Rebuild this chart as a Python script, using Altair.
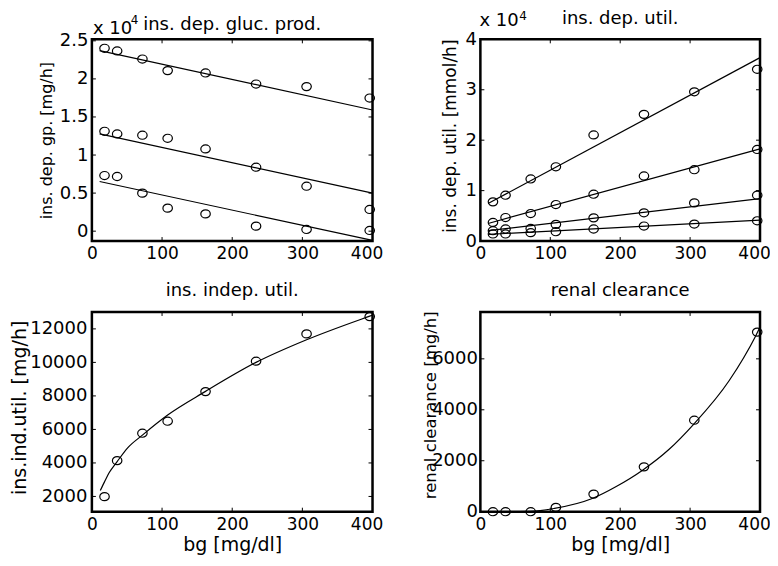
import altair as alt
import pandas as pd

FONT = "DejaVu Sans"

# blood glucose sample points [mg/dl]
bg = [18, 36, 72, 108, 162, 234, 306, 396]
fit_x = [11, 400]

# panel 1: ins. dep. gluc. prod.  (values in units of 10^4 mg/h)
gp_1 = [2.402, 2.367, 2.261, 2.109, 2.078, 1.933, 1.899, 1.749]
gp_2 = [1.312, 1.277, 1.260, 1.220, 1.080, 0.840, 0.590, 0.285]
gp_3 = [0.731, 0.718, 0.499, 0.302, 0.227, 0.066, 0.022, 0.009]
gp_fit_1 = [2.371, 1.592]
gp_fit_2 = [1.277, 0.499]
gp_fit_3 = [0.652, -0.121]

# panel 2: ins. dep. util.  (values in units of 10^4 mmol/h)
ut_1 = [0.777, 0.909, 1.231, 1.473, 2.104, 2.512, 2.959, 3.406]
ut_2 = [0.369, 0.467, 0.546, 0.724, 0.929, 1.290, 1.414, 1.816]
ut_3 = [0.205, 0.239, 0.250, 0.330, 0.460, 0.560, 0.757, 0.909]
ut_4 = [0.140, 0.140, 0.166, 0.185, 0.239, 0.298, 0.337, 0.402]
ut_fit_1 = [0.744, 3.637]
ut_fit_2 = [0.349, 1.828]
ut_fit_3 = [0.205, 0.842]
ut_fit_4 = [0.132, 0.416]

# panel 3: ins. indep. util. [mg/h]
iu = [1988, 4137, 5773, 6490, 8257, 10072, 11701, 12734]
iu_curve_x = [12, 18, 25, 36, 51, 72, 108, 162, 234, 306, 396, 400]
iu_curve_y = [2350, 2870, 3440, 4080, 4900, 5660, 6860, 8270, 10000, 11350, 12760, 12820]

# panel 4: renal clearance [mg/h]
rc = [0, 0, 0, 170, 690, 1760, 3590, 7050]
rc_curve_x = [18, 36, 72, 106, 160, 195, 232, 270, 305, 356, 394, 400]
rc_curve_y = [0, 0, 10, 130, 520, 1000, 1630, 2450, 3430, 5150, 6910, 7240]

x_ticks = [0, 100, 200, 300, 400]
gp_ticks = [0, 0.5, 1, 1.5, 2, 2.5]
ut_ticks = [0, 1, 2, 3, 4]
iu_ticks = [2000, 4000, 6000, 8000, 10000, 12000]
rc_ticks = [0, 2000, 4000, 6000]

ELLIPSE = "M-1,0A1,0.85,0,1,0,1,0A1,0.85,0,1,0,-1,0Z"


def long_df(xs, series):
    rows = []
    for name, ys in series.items():
        for xv, yv in zip(xs, ys):
            rows.append({"x": xv, "y": yv, "s": name})
    return pd.DataFrame(rows)


def text_layer(txt, x, y, size, align="left"):
    return (
        alt.Chart(pd.DataFrame({"t": [txt]}))
        .mark_text(align=align, baseline="alphabetic", fontSize=size, font=FONT, color="black")
        .encode(text="t:N", x=alt.value(x), y=alt.value(y))
    )


def panel(pts, fit, ydom, yt, w, h, title, toff, xtitle, ytitle, ytx, yty,
          ytsize, ylabpad, xlabpad, interp="linear", expo=None):
    xs = alt.Scale(domain=[0, 400], nice=False, zero=False)
    ys = alt.Scale(domain=ydom, nice=False, zero=False)
    xax_kw = dict(values=x_ticks, tickCount=20, format="~r", labelFlush=False,
                  labelOverlap=False, ticks=False, domain=False, grid=False,
                  labelPadding=xlabpad, labelFontSize=17, title=xtitle,
                  labelOffset={"condition": {"test": "datum.value == 400", "value": -6},
                               "value": 0})
    if xtitle is not None:
        xax_kw.update(titleFontSize=19, titleY=24, titleX=w / 2)
    xax = alt.Axis(**xax_kw)
    yax = alt.Axis(values=yt, tickCount=20, format="~r", labelOverlap=False, ticks=False,
                   domain=False, grid=False, labelPadding=ylabpad, labelFontSize=18,
                   title=ytitle, titleX=ytx, titleY=yty, titleFontSize=ytsize)
    layers = []
    layers.append(
        alt.Chart(fit).mark_line(color="black", strokeWidth=1.2, interpolate=interp)
        .encode(x=alt.X("x:Q", scale=xs, axis=xax),
                y=alt.Y("y:Q", scale=ys, axis=yax),
                detail="s:N")
    )
    layers.append(
        alt.Chart(pts).mark_point(shape=ELLIPSE, size=90, filled=False, color="black",
                                  strokeWidth=1.2, opacity=1)
        .encode(x="x:Q", y="y:Q", detail="s:N")
    )
    xtk = pd.DataFrame({"x": x_ticks[1:-1]})
    ytk = pd.DataFrame({"y": yt})
    layers.append(alt.Chart(xtk).mark_rule(color="black", strokeWidth=1)
                  .encode(x="x:Q", y=alt.value(0), y2=alt.value(4)))
    layers.append(alt.Chart(xtk).mark_rule(color="black", strokeWidth=1)
                  .encode(x="x:Q", y=alt.value(h), y2=alt.value(h - 4)))
    layers.append(alt.Chart(ytk).mark_rule(color="black", strokeWidth=1)
                  .encode(y="y:Q", x=alt.value(0), x2=alt.value(4)))
    layers.append(alt.Chart(ytk).mark_rule(color="black", strokeWidth=1)
                  .encode(y="y:Q", x=alt.value(w - 4), x2=alt.value(w)))
    # panel title
    layers.append(text_layer(title, w / 2, -toff, 18, align="center"))
    if expo is not None:
        bx, by, px, py = expo
        layers.append(text_layer("x 10", bx, by, 18))
        layers.append(text_layer("4", px, py, 12))
    return alt.layer(*layers).properties(width=w, height=h)


tl = panel(long_df(bg, {"a": gp_1, "b": gp_2, "c": gp_3}),
           long_df(fit_x, {"a": gp_fit_1, "b": gp_fit_2, "c": gp_fit_3}),
           [-0.13, 2.52], gp_ticks, 281, 202, "ins. dep. gluc. prod.", 9,
           None, "ins. dep. gp. [mg/h]", -37, 101, 16, 4, 4,
           expo=(1, -5, 39, -15))
tr = panel(long_df(bg, {"a": ut_1, "b": ut_2, "c": ut_3, "d": ut_4}),
           long_df(fit_x, {"a": ut_fit_1, "b": ut_fit_2, "c": ut_fit_3, "d": ut_fit_4}),
           [0, 4], ut_ticks, 280, 202, "ins. dep. util.", 15,
           None, "ins. dep. util. [mmol/h]", -21, 96.5, 17, 4, 4,
           expo=(-1, -13, 39, -19))
bl = panel(long_df(bg, {"a": iu}),
           long_df(iu_curve_x, {"a": iu_curve_y}),
           [1090, 13010], iu_ticks, 281, 200, "ins. indep. util.", 15.5,
           "bg [mg/dl]", "ins.ind.util. [mg/h]", -62, 95.5, 19, 5, 5,
           interp="monotone")
br = panel(long_df(bg, {"a": rc}),
           long_df(rc_curve_x, {"a": rc_curve_y}),
           [0, 7840], rc_ticks, 280, 200, "renal clearance", 15.5,
           "bg [mg/dl]", "renal clearance [mg/h]", -42, 93, 16.5, 3, 5,
           interp="monotone")

chart = (
    alt.concat(tl, tr, bl, br, columns=2, spacing={"row": 18, "column": 36})
    .properties(padding={"left": 1, "top": 0, "right": -2, "bottom": 0}, background="white")
    .configure_view(stroke="black", strokeWidth=2.5)
    .configure_axis(labelColor="black", titleColor="black", labelFont=FONT, titleFont=FONT,
                    titleFontWeight="normal", labelOverlap=False)
)

chart.save("out.html", embed_options={"renderer": "svg", "actions": False})
